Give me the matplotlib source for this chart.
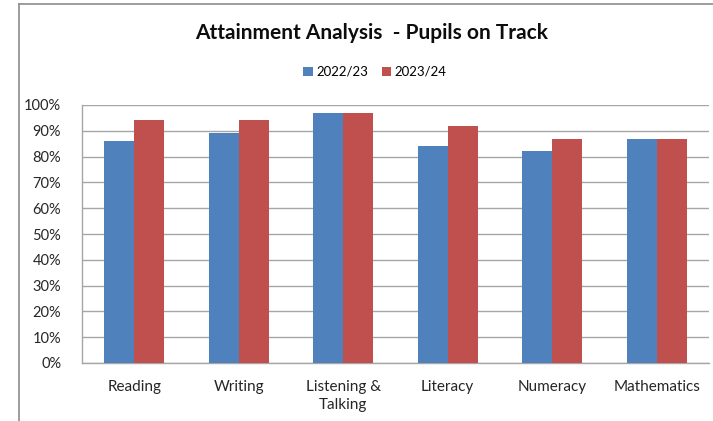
import matplotlib
matplotlib.use('Agg')
import matplotlib.pyplot as plt
from matplotlib.lines import Line2D
from matplotlib.ticker import PercentFormatter
import numpy as np

# ── 数据 ──────────────────────────────────────────
categories = ["Reading", "Writing", "Listening &\nTalking", "Literacy", "Numeracy", "Mathematics"]
series_names = ["2022/23", "2023/24"]
values_2223 = [86, 89, 97, 84, 82, 87]
values_2324 = [94, 94, 97, 92, 87, 87]
y_ticks = list(range(0, 101, 10))

BLUE = '#4F81BD'
RED = '#C0504D'
GRID = '#A6A6A6'

plt.rcParams['font.family'] = ['Lato', 'DejaVu Sans']

W, H = 713, 421
fig = plt.figure(figsize=(W / 100, H / 100), dpi=100)
fig.patch.set_facecolor('white')

# 绘图区：像素坐标换算成 figure 比例
left, right, top, bottom = 82, 709, 105, 363
ax = fig.add_axes([left / W, 1 - bottom / H, (right - left) / W, (bottom - top) / H])

x = np.arange(len(categories))
bw = 0.287
ax.bar(x - bw / 2, values_2223, bw, color=BLUE, label=series_names[0], zorder=3)
ax.bar(x + bw / 2, values_2324, bw, color=RED, label=series_names[1], zorder=3)

ax.set_xlim(-0.5, len(categories) - 0.5)
ax.set_ylim(0, 100)
ax.set_yticks(y_ticks)
ax.yaxis.set_major_formatter(PercentFormatter(decimals=0))
ax.set_xticks(x)
ax.set_xticklabels(categories, fontsize=11, color='#262626', linespacing=1.35)
ax.tick_params(axis='y', length=0, pad=15, labelsize=10.5, labelcolor='#262626')
ax.tick_params(axis='x', length=0, pad=12)

ax.grid(axis='y', color=GRID, linewidth=1, zorder=0)
for s in ['top', 'right']:
    ax.spines[s].set_visible(False)
for s in ['left', 'bottom']:
    ax.spines[s].set_color(GRID)
    ax.spines[s].set_linewidth(1)

# 标题与图例
fig.text(372 / W, 1 - 33 / H, "Attainment Analysis  - Pupils on Track",
         ha='center', va='center', fontsize=15, fontweight='bold', color='#0D0D0D')
fig.legend(loc='center', bbox_to_anchor=(375 / W, 1 - 72 / H), ncol=2, frameon=False,
           fontsize=9.5, handlelength=0.7, handleheight=0.7, handletextpad=0.3,
           columnspacing=1.0)

# 图表外框（Excel 图表边框）
fig.add_artist(Line2D([19 / W, 19 / W], [0, 1 - 4 / H], color='#8C8C8C', linewidth=1.2))
fig.add_artist(Line2D([19 / W, 1], [1 - 4 / H, 1 - 4 / H], color='#8C8C8C', linewidth=1.2))

fig.savefig('out.png', dpi=100)
